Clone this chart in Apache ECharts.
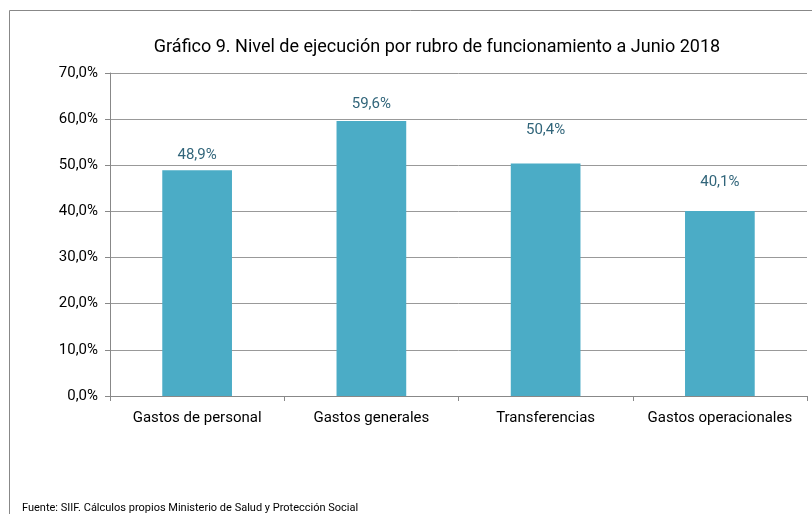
<!DOCTYPE html>
<html>
<head>
<meta charset="utf-8">
<script src="https://cdn.jsdelivr.net/npm/echarts@6/dist/echarts.min.js"></script>
<style>
  html, body { margin: 0; padding: 0; background: #fff; }
  #chart { width: 812px; height: 518px; }
</style>
</head>
<body>
<div id="chart"></div>
<script>
const categories = ["Gastos de personal", "Gastos generales", "Transferencias", "Gastos operacionales"];
const ejecucion = [48.9, 59.6, 50.4, 40.1];
const yTicks = { min: 0, max: 70, interval: 10 };

// excel pushed some labels higher, keep that look
const labelGap = [8, 9, 26, 21];

const FONT = "'Liberation Sans Narrow', 'Roboto', sans-serif";
const fmt = (v) => v.toFixed(1).replace(".", ",") + "%";

const chart = echarts.init(document.getElementById("chart"));

chart.setOption({
  animation: false,
  title: {
    text: "Gráfico 9. Nivel de ejecución por rubro de funcionamiento a Junio 2018",
    left: 432,
    top: 33,
    textAlign: "center",
    textStyle: { fontFamily: FONT, fontSize: 18, fontWeight: "normal", color: "#000" },
  },
  grid: { left: 110, right: 5, top: 73, bottom: 122 },
  xAxis: {
    type: "category",
    data: categories,
    axisLine: { lineStyle: { color: "#888" } },
    axisTick: { show: true, lineStyle: { color: "#888" }, length: 5 },
    axisLabel: { interval: 0, fontFamily: FONT, fontSize: 15, color: "#000", margin: 15 },
  },
  yAxis: {
    type: "value",
    min: yTicks.min,
    max: yTicks.max,
    interval: yTicks.interval,
    axisLine: { show: true, lineStyle: { color: "#888" } },
    axisTick: { show: true, lineStyle: { color: "#888" }, length: 5 },
    splitLine: { lineStyle: { color: "#999" } },
    axisLabel: { fontFamily: FONT, fontSize: 15, color: "#000", margin: 12, formatter: fmt },
  },
  series: [{
    type: "bar",
    data: ejecucion.map((v, i) => ({ value: v, label: { distance: labelGap[i] } })),
    barWidth: "40%",
    itemStyle: { color: "#4BACC6" },
    label: {
      show: true,
      position: "top",
      fontFamily: FONT,
      fontSize: 15,
      color: "#31657A",
      formatter: (p) => fmt(p.value),
    },
  }],
  graphic: [
    { type: "line", shape: { x1: 9.5, y1: 10.5, x2: 812, y2: 10.5 }, style: { stroke: "#888", lineWidth: 1 } },
    { type: "line", shape: { x1: 9.5, y1: 10.5, x2: 9.5, y2: 514 }, style: { stroke: "#888", lineWidth: 1 } },
    {
      type: "text",
      left: 22,
      top: 503,
      style: {
        text: "Fuente: SIIF. Cálculos propios Ministerio de Salud y Protección Social",
        font: "11px " + FONT,
        fill: "#000",
      },
    },
  ],
});
</script>
</body>
</html>
